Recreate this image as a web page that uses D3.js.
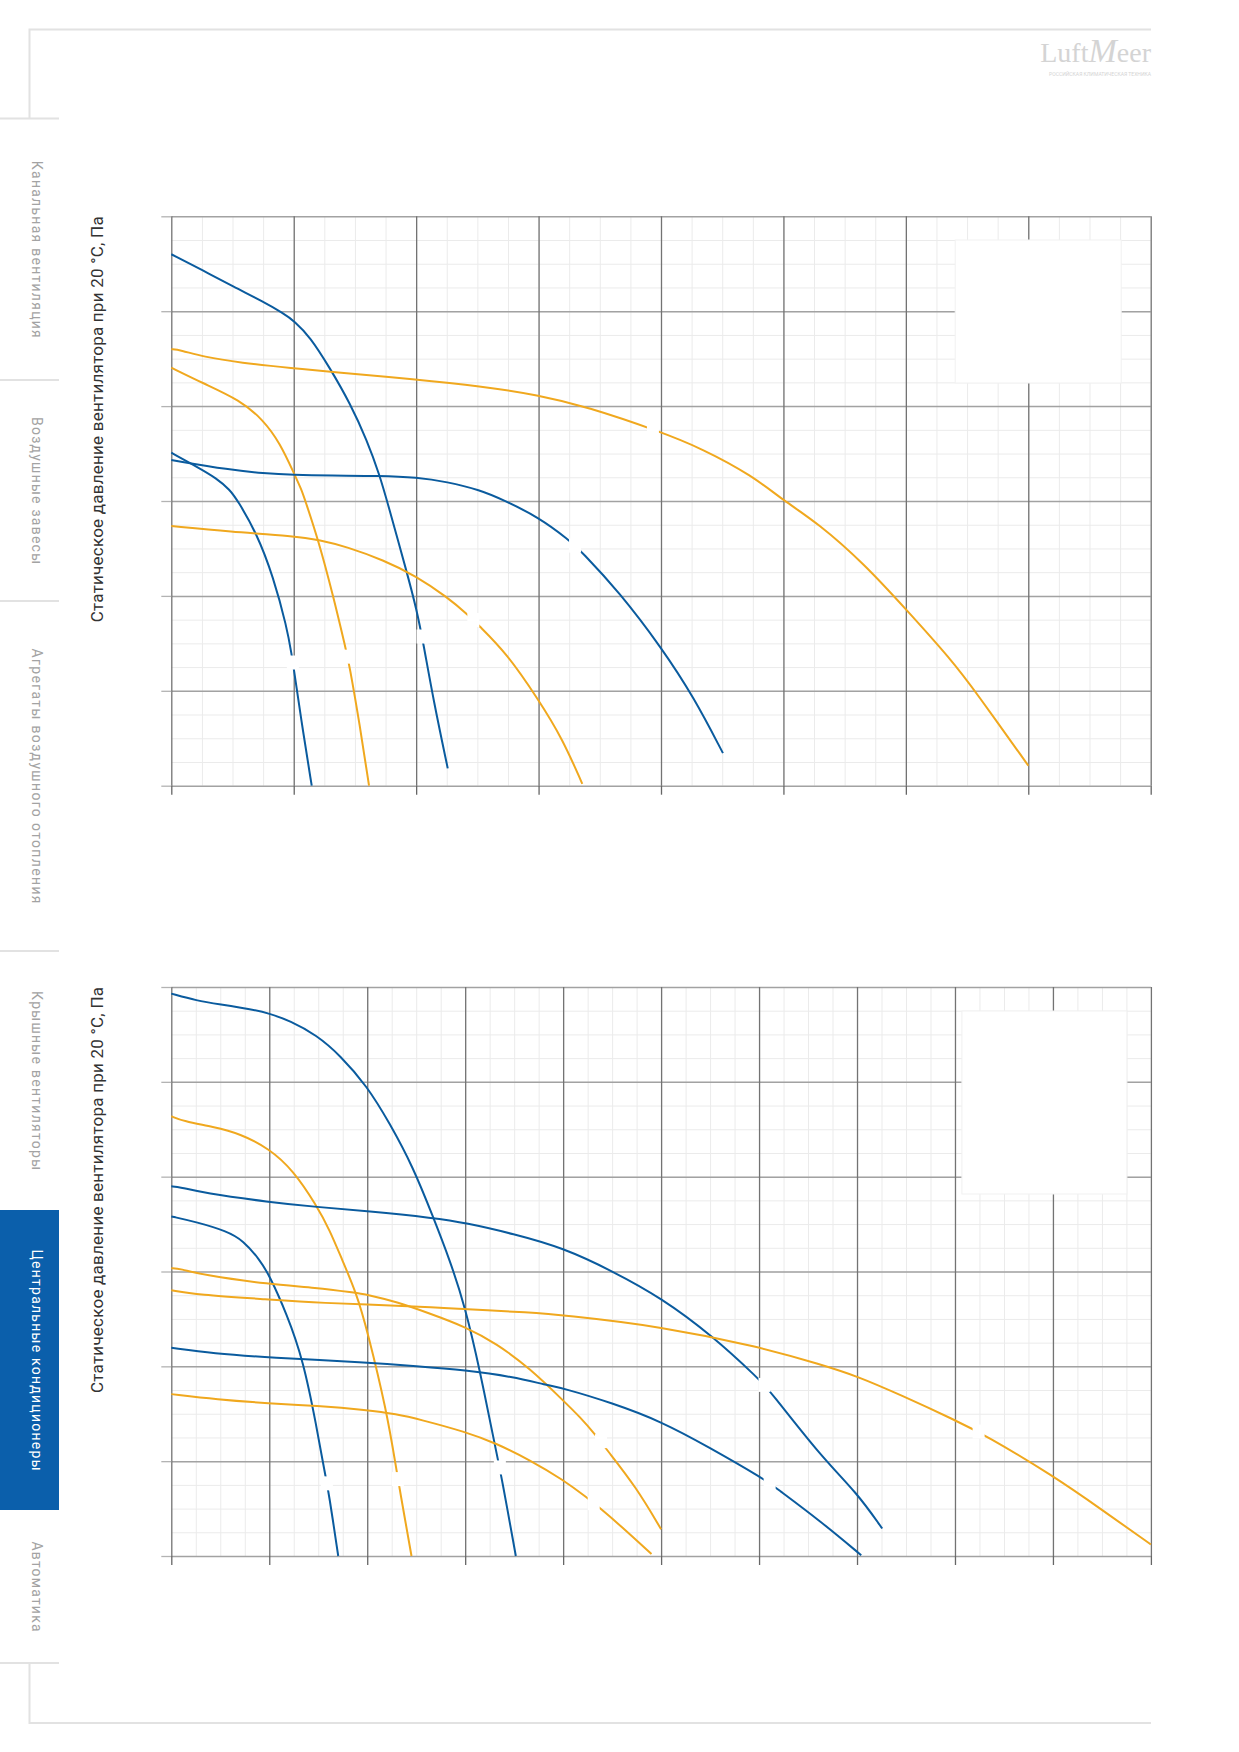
<!DOCTYPE html>
<html>
<head>
<meta charset="utf-8">
<script src="https://cdn.jsdelivr.net/npm/d3@7"></script>
<style>
body { margin: 0; background: #fff; }
svg { display: block; }
text { font-family: Roboto, "Open Sans", sans-serif; }
</style>
</head>
<body>
<svg id="page"></svg>
<script>
// fan curves in grid units (no tick labels are printed)
var BLUE = "#0a5b9e";
var ORANGE = "#f0a81e";

// upper chart: 8 x 6 grid
var c1Max = [8, 6];
var c1BlueA = [[0,5.60],[0.253,5.434],[0.507,5.258],[0.752,5.100],[0.915,4.978],[1.002,4.900],[1.133,4.731],[1.297,4.398],[1.460,4.030],[1.597,3.643],[1.706,3.256],[1.760,3.011],[1.923,2.255],[2.005,1.851],[2.059,1.500],[2.141,0.903],[2.258,0.183]];
var c1OrangeB = [[0,4.599],[0.071,4.592],[0.261,4.52],[0.561,4.457],[1.0,4.398],[1.297,4.362],[2.0,4.282],[2.522,4.212],[3.0,4.116],[3.389,3.995],[3.99,3.733],[4.337,3.551],[4.743,3.269],[5.0,3.006],[5.285,2.764],[5.657,2.341],[6.003,1.856],[6.368,1.332],[6.571,0.989],[7.001,0.21]];
var c1OrangeC = [[0,4.405],[0.261,4.24],[0.561,4.064],[0.752,3.853],[0.889,3.608],[1.002,3.292],[1.065,3.116],[1.092,3.011],[1.201,2.589],[1.324,1.992],[1.427,1.43],[1.452,1.29],[1.542,0.622],[1.615,0]];
var c1BlueD = [[0,3.509],[0.208,3.361],[0.371,3.239],[0.48,3.116],[0.539,3.011],[0.698,2.66],[0.833,2.202],[0.943,1.675],[0.984,1.377],[1.002,1.219],[1.078,0.552],[1.147,0]];
var c1BlueE = [[0,3.432],[0.48,3.327],[0.752,3.292],[1.0,3.274],[1.297,3.267],[1.706,3.267],[2.005,3.25],[2.25,3.203],[2.522,3.116],[2.712,3.011],[3.0,2.83],[3.247,2.591],[3.349,2.47],[3.66,2.038],[4.005,1.453],[4.27,0.928],[4.506,0.343]];
var c1OrangeF = [[0,2.737],[0.48,2.677],[1.0,2.631],[1.215,2.589],[1.433,2.518],[1.732,2.378],[2.0,2.21],[2.25,1.99],[2.426,1.799],[2.508,1.693],[2.74,1.395],[3.0,0.905],[3.193,0.5],[3.357,0.02]];
var c1Gaps = [[2.052,1.572],[1.44,1.36],[0.993,1.298],[2.467,1.746],[3.298,2.53],[3.934,3.765]];

// lower chart: 10 x 6 grid
var c2Max = [10, 6];
var c2BlueG = [[0,5.930],[0.259,5.856],[0.497,5.817],[0.803,5.768],[1.0,5.722],[1.211,5.644],[1.483,5.493],[1.721,5.282],[2.0,4.954],[2.231,4.56],[2.469,4.1],[2.673,3.574],[2.844,3.118],[3.0,2.627],[3.15,1.96],[3.32,1.082],[3.371,0.836],[3.517,0]];
var c2OrangeH = [[0,4.637],[0.122,4.585],[0.429,4.525],[0.701,4.454],[1.0,4.296],[1.245,4.067],[1.483,3.697],[1.619,3.433],[1.741,3.13],[1.891,2.768],[2.0,2.381],[2.197,1.538],[2.299,0.906],[2.333,0.695],[2.452,0]];
var c2BlueI = [[0,3.898],[0.088,3.891],[0.327,3.827],[1.0,3.732],[1.483,3.68],[2.0,3.637],[2.69,3.563],[3.0,3.514],[3.49,3.398],[4.0,3.25],[4.5,3.006],[5.0,2.724],[5.526,2.32],[6.0,1.864],[6.108,1.747],[6.633,1.049],[7.0,0.666],[7.257,0.29]];
var c2BlueJ = [[0,3.581],[0.259,3.521],[0.565,3.426],[0.735,3.327],[0.905,3.121],[1.0,2.961],[1.177,2.557],[1.347,2.065],[1.483,1.363],[1.568,0.871],[1.609,0.66],[1.704,0]];
var c2OrangeK = [[0,3.035],[0.088,3.031],[0.327,2.961],[1.0,2.866],[1.483,2.828],[1.857,2.778],[2.0,2.757],[2.299,2.68],[2.639,2.557],[3.0,2.417],[3.32,2.241],[3.66,1.978],[4.0,1.64],[4.17,1.468],[4.336,1.271],[4.439,1.13],[4.746,0.726],[5.0,0.282]];
var c2OrangeL = [[0,2.803],[0.259,2.757],[1.0,2.705],[1.483,2.669],[2.503,2.634],[3.0,2.603],[3.66,2.568],[4.0,2.54],[5.0,2.421],[6.0,2.207],[6.633,2.018],[7.0,1.897],[7.451,1.695],[8.0,1.433],[8.315,1.271],[9.0,0.847],[9.505,0.484],[10.0,0.121]];
var c2BlueM = [[0,2.195],[0.429,2.136],[1.0,2.093],[2.0,2.041],[2.503,2.002],[3.0,1.96],[3.49,1.89],[3.83,1.802],[4.0,1.77],[4.5,1.614],[5.0,1.42],[5.485,1.15],[6.059,0.807],[6.162,0.726],[6.633,0.363],[7.043,0.008]];
var c2OrangeN = [[0,1.707],[0.463,1.651],[1.0,1.609],[1.483,1.584],[2.0,1.538],[2.299,1.496],[2.537,1.44],[3.0,1.31],[3.32,1.187],[3.66,1.012],[4.0,0.804],[4.246,0.613],[4.377,0.504],[4.582,0.323],[4.902,0.02]];
var c2Gaps = [[3.354,0.934],[2.313,0.811],[1.588,0.766],[6.055,1.804],[4.386,1.211],[8.241,1.312],[6.108,0.763],[4.312,0.557]];

var yTitle = "Статическое давление вентилятора при 20 °С, Па";
var tabNames = ["Канальная вентиляция", "Воздушные завесы", "Агрегаты воздушного отопления",
    "Крышные вентиляторы", "Центральные кондиционеры", "Автоматика"];
var activeTab = 4;

var svg = d3.select("#page").attr("width", 1239).attr("height", 1752);

// page frame
var frame = "#e2e2e2";
svg.append("path")
    .attr("d", "M29.5,118.5 V29.5 H1151")
    .attr("fill", "none").attr("stroke", frame).attr("stroke-width", 2);
svg.append("path")
    .attr("d", "M29.5,1663 V1723 H1151")
    .attr("fill", "none").attr("stroke", frame).attr("stroke-width", 2);

// logo
var logo = svg.append("text")
    .attr("x", 1151).attr("y", 62)
    .attr("text-anchor", "end")
    .style("font-family", "'Liberation Serif', 'DejaVu Serif', serif")
    .style("font-size", "28px")
    .attr("fill", "#d4d4d4");
logo.append("tspan").text("Luft");
logo.append("tspan").style("font-style", "italic").style("font-size", "34px").text("M");
logo.append("tspan").text("eer");
svg.append("text")
    .attr("x", 1049).attr("y", 76)
    .attr("textLength", 102).attr("lengthAdjust", "spacingAndGlyphs")
    .style("font-size", "5px")
    .attr("fill", "#d4d4d4")
    .text("РОССИЙСКАЯ КЛИМАТИЧЕСКАЯ ТЕХНИКА");

// side tabs
var tabEdges = [118.5, 380, 601, 951, 1210, 1510, 1663];
var tabTextLen = [177, 147, 255, 179, 221, 90];
tabNames.forEach(function (name, i) {
    var y0 = tabEdges[i], y1 = tabEdges[i + 1];
    if (i == activeTab) {
        svg.append("rect").attr("x", 0).attr("y", y0).attr("width", 59).attr("height", y1 - y0)
            .attr("fill", "#0b5fab");
    }
    svg.append("text")
        .attr("transform", "translate(37," + (y0 + y1) / 2 + ") rotate(90)")
        .attr("text-anchor", "middle")
        .attr("dy", "0.35em")
        .attr("textLength", tabTextLen[i]).attr("lengthAdjust", "spacing")
        .style("font-size", "14px")
        .attr("fill", i == activeTab ? "#fff" : "#a3a3a3")
        .text(name);
});
[118.5, 380, 601, 951, 1663].forEach(function (y) {
    svg.append("line").attr("x1", 0).attr("x2", 59).attr("y1", y).attr("y2", y)
        .attr("stroke", frame).attr("stroke-width", 2);
});

function drawChart(cfg) {
    var g = svg.append("g").attr("transform", "translate(" + cfg.left + "," + cfg.top + ")");
    var x = d3.scaleLinear().domain([0, cfg.max[0]]).range([0, cfg.width]);
    var y = d3.scaleLinear().domain([0, cfg.max[1]]).range([cfg.height, 0]);

    function clean(sel) {
        sel.select(".domain").remove();
        sel.selectAll("text").remove();
    }

    // minor grid
    g.append("g").attr("transform", "translate(0," + cfg.height + ")")
        .call(d3.axisBottom(x).tickValues(d3.range(0.25, cfg.max[0], 0.25)).tickSize(-cfg.height))
        .call(clean)
        .selectAll("line").attr("stroke", "#ebebeb").attr("stroke-width", 1);
    g.append("g")
        .call(d3.axisLeft(y).tickValues(d3.range(0.25, cfg.max[1], 0.25)).tickSize(-cfg.width))
        .call(clean)
        .selectAll("line").attr("stroke", "#ebebeb").attr("stroke-width", 1);

    // major grid
    g.append("g")
        .call(d3.axisLeft(y).tickValues(d3.range(0, cfg.max[1] + 1)).tickSize(-cfg.width))
        .call(clean)
        .selectAll("line").attr("stroke", "#a2a2a2").attr("stroke-width", 1.5);
    g.append("g").attr("transform", "translate(0," + cfg.height + ")")
        .call(d3.axisBottom(x).tickValues(d3.range(0, cfg.max[0] + 1)).tickSize(-cfg.height))
        .call(clean)
        .selectAll("line").attr("stroke", "#737373").attr("stroke-width", 1.3);

    // curves, smoothed through the read points
    var line = d3.line()
        .x(function (d) { return x(d[0]); })
        .y(function (d) { return y(d[1]); })
        .curve(d3.curveBasis);
    cfg.series.forEach(function (s) {
        g.append("path").datum(s.pts)
            .attr("d", line)
            .attr("fill", "none")
            .attr("stroke", s.color)
            .attr("stroke-width", 2)
            .attr("stroke-linejoin", "round");
    });

    // empty label spots that break the curves
    g.selectAll(".gap").data(cfg.gaps).enter().append("rect")
        .attr("x", function (d) { return x(d[0]) - 6; })
        .attr("y", function (d) { return y(d[1]) - 7; })
        .attr("width", 12).attr("height", 14)
        .attr("fill", "#fff");

    // blank legend panel
    g.append("rect")
        .attr("x", cfg.width - cfg.box[0] - cfg.box[2]).attr("y", cfg.box[1])
        .attr("width", cfg.box[2]).attr("height", cfg.box[3])
        .attr("fill", "#fff").attr("stroke", "#f1f1f1");

    // ticks
    g.append("g")
        .call(d3.axisLeft(y).tickValues(d3.range(0, cfg.max[1] + 1)).tickSize(10))
        .call(clean)
        .selectAll("line").attr("stroke", "#b3b3b3").attr("stroke-width", 1.3);
    g.append("g").attr("transform", "translate(0," + cfg.height + ")")
        .call(d3.axisBottom(x).tickValues(d3.range(0, cfg.max[0] + 1)).tickSize(9))
        .call(clean)
        .selectAll("line").attr("stroke", "#666").attr("stroke-width", 1.3);

    // axis title
    svg.append("text")
        .attr("transform", "translate(103," + cfg.top + ") rotate(-90)")
        .attr("text-anchor", "end")
        .attr("textLength", 406).attr("lengthAdjust", "spacing")
        .style("font-size", "17px")
        .attr("fill", "#333")
        .text(yTitle);
}

drawChart({
    left: 171.3, top: 216.3, width: 979.4, height: 569.4,
    max: c1Max,
    series: [
        {pts: c1BlueA, color: BLUE}, {pts: c1OrangeB, color: ORANGE},
        {pts: c1OrangeC, color: ORANGE}, {pts: c1BlueD, color: BLUE},
        {pts: c1BlueE, color: BLUE}, {pts: c1OrangeF, color: ORANGE}
    ],
    gaps: c1Gaps,
    box: [29.5, 23.7, 166, 143]
});

drawChart({
    left: 171.3, top: 987, width: 979.6, height: 569,
    max: c2Max,
    series: [
        {pts: c2BlueG, color: BLUE}, {pts: c2OrangeH, color: ORANGE},
        {pts: c2BlueI, color: BLUE}, {pts: c2BlueJ, color: BLUE},
        {pts: c2OrangeK, color: ORANGE}, {pts: c2OrangeL, color: ORANGE},
        {pts: c2BlueM, color: BLUE}, {pts: c2OrangeN, color: ORANGE}
    ],
    gaps: c2Gaps,
    box: [24, 24, 165, 183]
});
</script>
</body>
</html>
